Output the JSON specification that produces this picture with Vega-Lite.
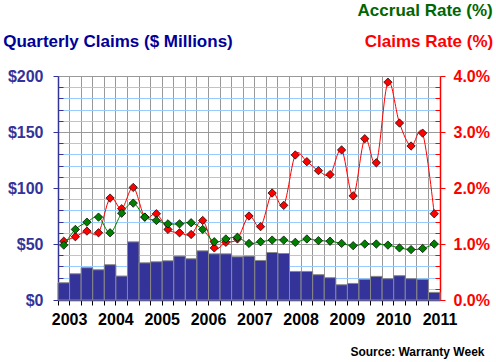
{
  "$schema": "https://vega.github.io/schema/vega-lite/v6.json",
  "width": 382,
  "height": 224,
  "autosize": "none",
  "padding": {"left": 58, "top": 76, "right": 56, "bottom": 62},
  "background": "white",
  "config": {"view": {"stroke": null}, "font": "Liberation Sans"},
  "title": {"text": "Accrual Rate (%)", "anchor": "end", "frame": "group", "color": "#006600", "font": "Liberation Sans", "fontSize": 17, "fontWeight": "bold", "dx": 52.7, "dy": -9},
  "data": {"values": [
    {"q": "2003Q1", "claims": 15.4, "cr": 1.05, "ar": 0.98},
    {"q": "2003Q2", "claims": 23.4, "cr": 1.13, "ar": 1.26},
    {"q": "2003Q3", "claims": 28.8, "cr": 1.23, "ar": 1.39},
    {"q": "2003Q4", "claims": 27.0, "cr": 1.20, "ar": 1.48},
    {"q": "2004Q1", "claims": 31.5, "cr": 1.82, "ar": 1.20},
    {"q": "2004Q2", "claims": 21.4, "cr": 1.63, "ar": 1.55},
    {"q": "2004Q3", "claims": 51.9, "cr": 2.01, "ar": 1.73},
    {"q": "2004Q4", "claims": 33.2, "cr": 1.48, "ar": 1.48},
    {"q": "2005Q1", "claims": 34.1, "cr": 1.54, "ar": 1.42},
    {"q": "2005Q2", "claims": 35.0, "cr": 1.26, "ar": 1.36},
    {"q": "2005Q3", "claims": 39.2, "cr": 1.20, "ar": 1.36},
    {"q": "2005Q4", "claims": 36.8, "cr": 1.17, "ar": 1.38},
    {"q": "2006Q1", "claims": 43.9, "cr": 1.42, "ar": 1.26},
    {"q": "2006Q2", "claims": 41.2, "cr": 0.93, "ar": 1.04},
    {"q": "2006Q3", "claims": 41.2, "cr": 1.03, "ar": 1.09},
    {"q": "2006Q4", "claims": 38.6, "cr": 1.09, "ar": 1.12},
    {"q": "2007Q1", "claims": 39.2, "cr": 1.50, "ar": 1.01},
    {"q": "2007Q2", "claims": 35.3, "cr": 1.31, "ar": 1.04},
    {"q": "2007Q3", "claims": 42.4, "cr": 1.91, "ar": 1.07},
    {"q": "2007Q4", "claims": 41.5, "cr": 1.69, "ar": 1.07},
    {"q": "2008Q1", "claims": 25.5, "cr": 2.59, "ar": 1.03},
    {"q": "2008Q2", "claims": 25.5, "cr": 2.47, "ar": 1.09},
    {"q": "2008Q3", "claims": 22.6, "cr": 2.31, "ar": 1.06},
    {"q": "2008Q4", "claims": 19.9, "cr": 2.24, "ar": 1.05},
    {"q": "2009Q1", "claims": 13.6, "cr": 2.68, "ar": 1.01},
    {"q": "2009Q2", "claims": 14.8, "cr": 1.86, "ar": 0.97},
    {"q": "2009Q3", "claims": 18.4, "cr": 2.88, "ar": 1.00},
    {"q": "2009Q4", "claims": 21.1, "cr": 2.45, "ar": 1.00},
    {"q": "2010Q1", "claims": 19.0, "cr": 3.89, "ar": 0.98},
    {"q": "2010Q2", "claims": 21.7, "cr": 3.16, "ar": 0.93},
    {"q": "2010Q3", "claims": 19.0, "cr": 2.75, "ar": 0.90},
    {"q": "2010Q4", "claims": 18.4, "cr": 2.98, "ar": 0.92},
    {"q": "2011Q1", "claims": 6.8, "cr": 1.54, "ar": 1.00}
  ]},
  "encoding": {
    "x": {
      "field": "q", "type": "ordinal", "sort": null,
      "scale": {"paddingInner": 0, "paddingOuter": 0},
      "title": "Source: Warranty Week",
      "axis": {
        "bandPosition": 0, "labelOffset": 5.8,
        "labelExpr": "slice(datum.value,4)=='Q1' ? slice(datum.value,0,4) : ''",
        "labelAngle": 0, "labelFont": "Liberation Sans", "labelFontSize": 16, "labelFontWeight": "bold",
        "labelColor": "black", "labelPadding": 6, "labelOverlap": false, "labelBound": false, "labelFlush": false,
        "tickColor": "black", "tickSize": 5, "domainColor": "#333399", "domainWidth": 1.5,
        "grid": true, "gridColor": "#999999", "gridWidth": 1,
        "titleFont": "Liberation Sans", "titleFontSize": 12, "titleFontWeight": "bold", "titleColor": "black",
        "titleAnchor": "end", "titleAlign": "right", "titleX": 426, "titleY": 55, "titleBaseline": "alphabetic"
      }
    }
  },
  "layer": [
    {
      "mark": {"type": "bar", "color": "#333399", "stroke": "#888888", "strokeWidth": 1},
      "encoding": {
        "y": {
          "field": "claims", "type": "quantitative",
          "scale": {"domain": [0, 200], "nice": false},
          "title": "Quarterly Claims ($ Millions)",
          "axis": {
            "orient": "left",
            "values": [0,10,20,30,40,50,60,70,80,90,100,110,120,130,140,150,160,170,180,190,200],
            "labelExpr": "datum.value % 50 == 0 ? '$' + datum.value : ''",
            "labelOverlap": false,
            "grid": true,
            "gridColor": {"condition": {"test": "datum.value % 50 == 0", "value": "#999999"}, "value": "#99CCFF"},
            "domainColor": "#333399", "domainWidth": 1.5, "tickColor": "#333399",
            "tickSize": {"condition": {"test": "datum.value % 50 == 0", "value": 5}, "value": -5},
            "labelColor": "#333399", "labelFont": "Liberation Sans", "labelFontSize": 16, "labelFontWeight": "bold",
            "labelPadding": 10,
            "titleAngle": 0, "titleX": -55.3, "titleY": -29.3, "titleAlign": "left", "titleBaseline": "alphabetic",
            "titleColor": "#000099", "titleFont": "Liberation Sans", "titleFontSize": 17, "titleFontWeight": "bold"
          }
        }
      }
    },
    {
      "transform": [{"fold": ["cr", "ar"], "as": ["series", "rate"]}],
      "encoding": {
        "y": {
          "field": "rate", "type": "quantitative",
          "scale": {"domain": [0, 4], "nice": false},
          "title": "Claims Rate (%)",
          "axis": {
            "orient": "right",
            "values": [0,0.2,0.4,0.6,0.8,1,1.2,1.4,1.6,1.8,2,2.2,2.4,2.6,2.8,3,3.2,3.4,3.6,3.8,4],
            "labelExpr": "abs(datum.value - round(datum.value)) < 0.001 ? format(datum.value, '.1f') + '%' : ''",
            "labelOverlap": false,
            "labelFontSize": {"condition": {"test": "abs(datum.value - round(datum.value)) < 0.001", "value": 16}, "value": 1},
            "grid": false,
            "domainColor": "#FF0000", "domainWidth": 1.5, "tickColor": "#FF0000",
            "tickSize": {"condition": {"test": "abs(datum.value - round(datum.value)) < 0.001", "value": 5}, "value": -5},
            "labelColor": "#FF0000", "labelFont": "Liberation Sans", "labelFontWeight": "bold",
            "labelPadding": 8,
            "titleAngle": 0, "titleX": 52.7, "titleY": -29.3, "titleAlign": "right", "titleBaseline": "alphabetic",
            "titleColor": "#FF0000", "titleFont": "Liberation Sans", "titleFontSize": 17, "titleFontWeight": "bold"
          }
        }
      },
      "layer": [
        {
          "transform": [{"filter": "datum.series == 'cr'"}],
          "mark": {"type": "line", "color": "#FF0000", "strokeWidth": 1, "interpolate": "cardinal"}
        },
        {
          "transform": [{"filter": "datum.series == 'cr'"}],
          "mark": {"type": "point", "shape": "diamond", "filled": true, "fill": "#FF0000", "stroke": "black", "strokeWidth": 0.7, "size": 70, "opacity": 1}
        },
        {
          "transform": [{"filter": "datum.series == 'ar'"}],
          "mark": {"type": "line", "color": "#008000", "strokeWidth": 1, "interpolate": "cardinal"}
        },
        {
          "transform": [{"filter": "datum.series == 'ar'"}],
          "mark": {"type": "point", "shape": "diamond", "filled": true, "fill": "#008000", "stroke": "black", "strokeWidth": 0.7, "size": 70, "opacity": 1}
        }
      ]
    }
  ],
  "resolve": {"scale": {"y": "independent"}}
}
